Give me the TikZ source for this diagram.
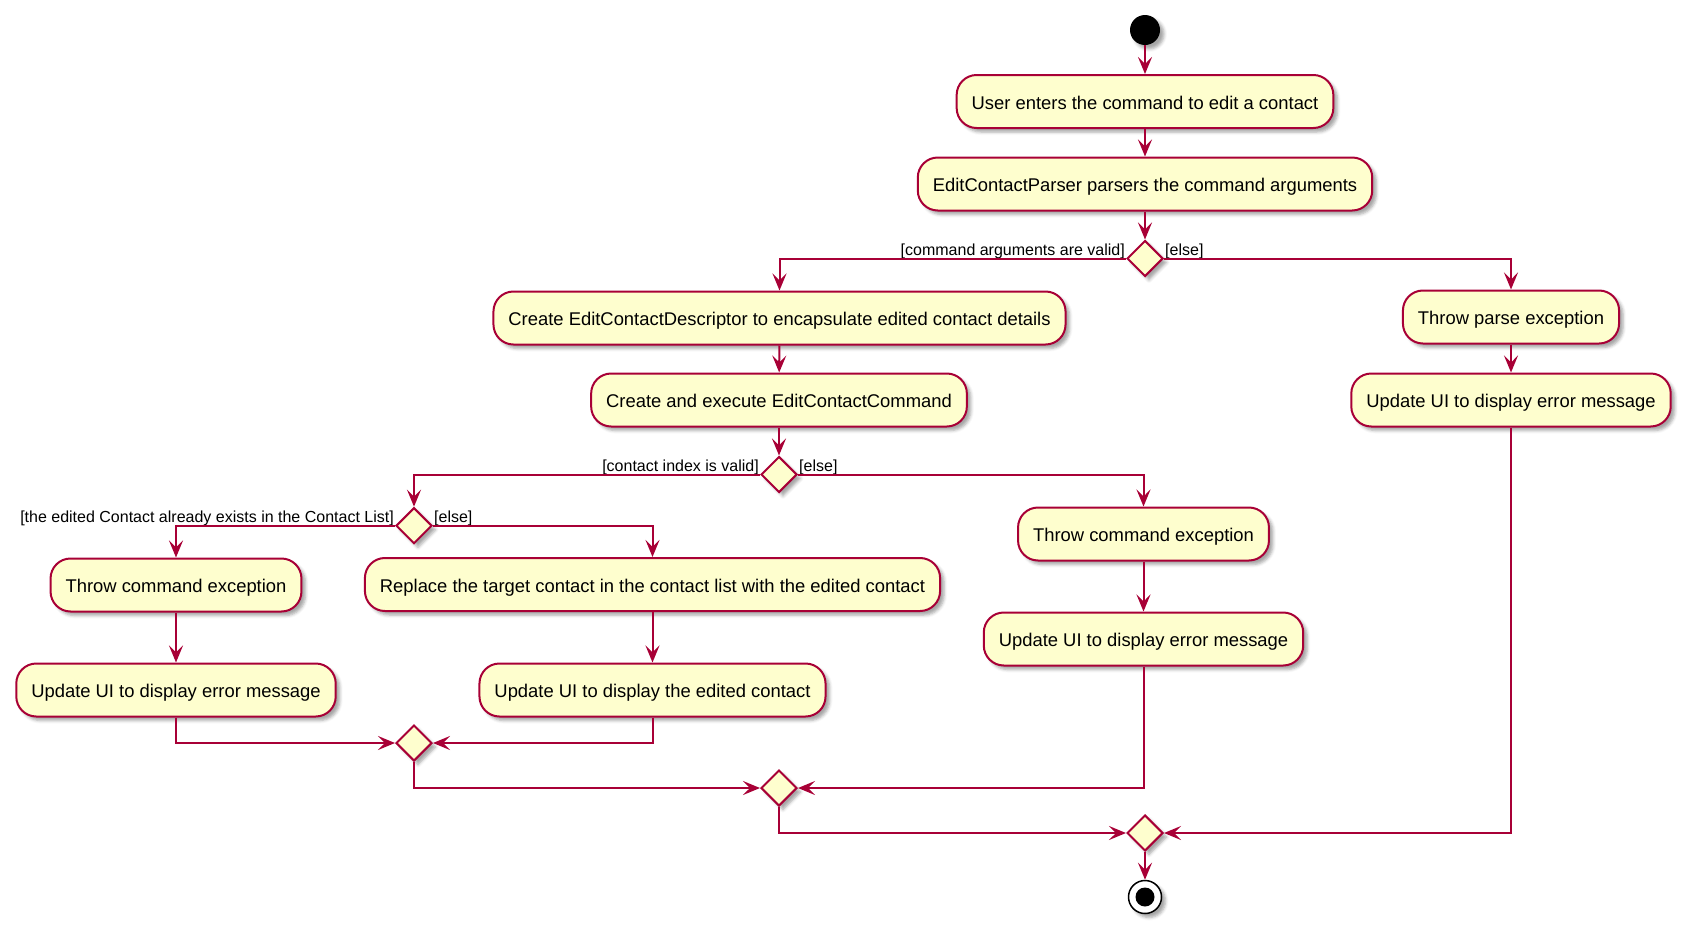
\documentclass[tikz,border=0pt]{standalone}
\usepackage{fontspec}
\setmainfont{Liberation Sans}
\usetikzlibrary{arrows.meta,shapes.geometric,shadows.blur}
\definecolor{umlborder}{HTML}{A80036}
\definecolor{umlfill}{HTML}{FEFECE}
\tikzset{
  softshadow/.style={blur shadow={shadow xshift=4pt, shadow yshift=-4pt,
      shadow blur radius=3pt, shadow opacity=35}},
  action/.style={draw=umlborder, fill=umlfill, line width=2pt,
      rounded corners=20pt, minimum height=53pt, inner xsep=15pt,
      text height=15.4pt, text depth=0pt,
      font=\fontsize{18.4}{22}\selectfont, softshadow},
  branch/.style={draw=umlborder, fill=umlfill, line width=2pt, diamond,
      aspect=1, minimum width=36pt, minimum height=36pt, inner sep=0pt, softshadow},
  guard/.style={font=\fontsize{16}{19}\selectfont, inner sep=0pt},
  flow/.style={draw=umlborder, line width=2pt,
      -{Stealth[length=17pt, width=14pt, inset=7pt]}},
}
\begin{document}
\begin{tikzpicture}[x=1pt, y=-1pt]
\useasboundingbox (0,0) rectangle (1687,929);

% start and end
\node[circle, fill=black, minimum size=30pt, inner sep=0pt, softshadow] (start) at (1145,30) {};
\node[circle, draw=black, fill=white, line width=1.5pt, minimum size=33pt, inner sep=0pt, softshadow] (stop) at (1145,897) {};
\node[circle, fill=black, minimum size=19pt, inner sep=0pt] (stopdot) at (stop.center) {};

% actions
\node[action] (enter)  at (1145,101.5) {User enters the command to edit a contact};
\node[action] (parse)  at (1145,184)   {EditContactParser parsers the command arguments};
\node[branch] (dargs)  at (1145,258.5) {};
\node[action] (desc)   at (779.5,318)  {Create EditContactDescriptor to encapsulate edited contact details};
\node[action] (tparse) at (1511,317)   {Throw parse exception};
\node[action] (exec)   at (779,400)    {Create and execute EditContactCommand};
\node[action] (uiR)    at (1511,400)   {Update UI to display error message};
\node[branch] (dindex) at (779,474.5)  {};
\node[action] (tcmdM)  at (1143.5,534) {Throw command exception};
\node[action] (uiM)    at (1143.5,639) {Update UI to display error message};
\node[branch] (ddup)   at (414,525.7)  {};
\node[action] (tcmdL)  at (176,585)    {Throw command exception};
\node[action] (uiL)    at (176,690)    {Update UI to display error message};
\node[action] (repl)   at (652.5,584.5){Replace the target contact in the contact list with the edited contact};
\node[action] (uiE)    at (652.5,690)  {Update UI to display the edited contact};

% merges
\node[branch] (m1) at (414,743) {};
\node[branch] (m2) at (779,788) {};
\node[branch] (m3) at (1145,833)  {};

% guards
\node[guard, anchor=base east] (g1) at ([xshift=-1pt, yshift=3.5pt]dargs.west) {[command arguments are valid]};
\node[guard, anchor=base west] (g2) at ([xshift=1pt, yshift=3.5pt]dargs.east) {[else]};
\node[guard, anchor=base east] (g3) at ([xshift=-1pt, yshift=3.5pt]dindex.west) {[contact index is valid]};
\node[guard, anchor=base west] (g4) at ([xshift=1pt, yshift=3.5pt]dindex.east) {[else]};
\node[guard, anchor=base east] (g5) at ([xshift=-1pt, yshift=3.5pt]ddup.west) {[the edited Contact already exists in the Contact List]};
\node[guard, anchor=base west] (g6) at ([xshift=1pt, yshift=3.5pt]ddup.east) {[else]};

% flows
\draw[flow] (start) -- (enter);
\draw[flow] (enter) -- (parse);
\draw[flow] (parse) -- (dargs);
\draw[flow] (dargs.west) -| (desc);
\draw[flow] (dargs.east) -| (tparse);
\draw[flow] (desc) -- (exec);
\draw[flow] (tparse) -- (uiR);
\draw[flow] (exec) -- (dindex);
\draw[flow] (dindex.west) -| (ddup);
\draw[flow] (dindex.east) -| (tcmdM);
\draw[flow] (tcmdM) -- (uiM);
\draw[flow] (ddup.west) -| (tcmdL);
\draw[flow] (ddup.east) -| (repl);
\draw[flow] (tcmdL) -- (uiL);
\draw[flow] (repl) -- (uiE);
\draw[flow] (uiL) |- (m1.west);
\draw[flow] (uiE) |- (m1.east);
\draw[flow] (m1) |- (m2.west);
\draw[flow] (uiM) |- (m2.east);
\draw[flow] (m2) |- (m3.west);
\draw[flow] (uiR) |- (m3.east);
\draw[flow] (m3) -- (stop);
\end{tikzpicture}
\end{document}
